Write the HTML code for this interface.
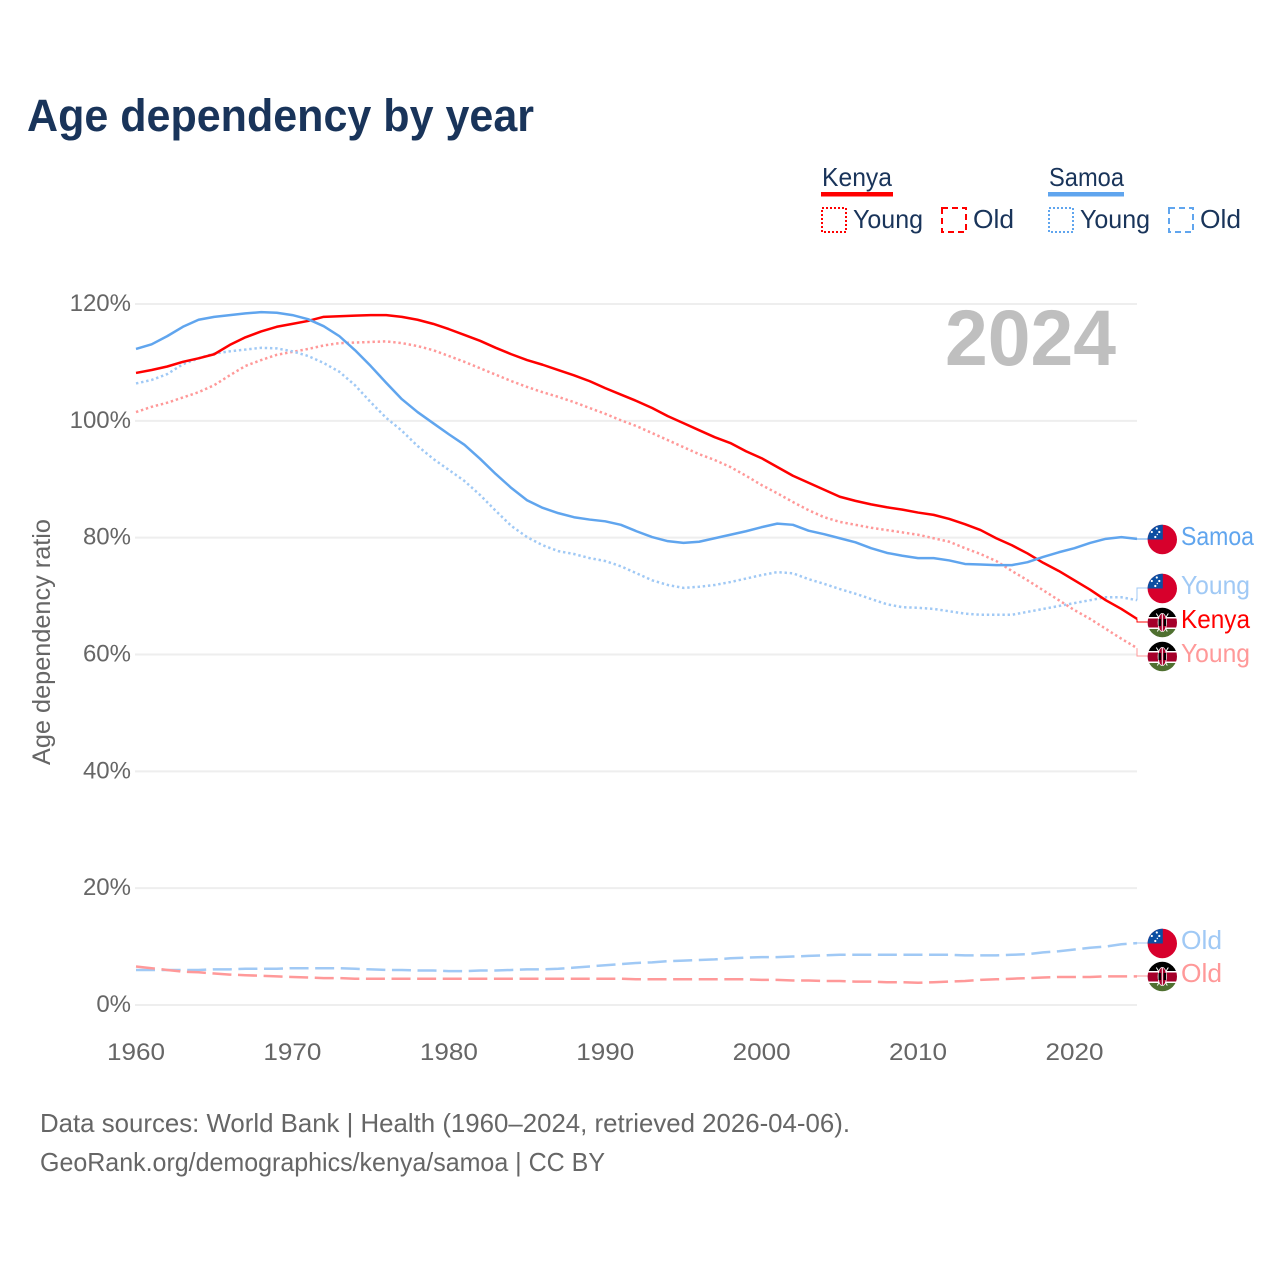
<!DOCTYPE html>
<html lang="en">
<head>
<meta charset="utf-8">
<title>Age dependency by year</title>
<style>
html,body{margin:0;padding:0;background:#fff;width:1280px;height:1280px;overflow:hidden}
svg{display:block;font-family:"Liberation Sans",sans-serif}
</style>
</head>
<body>
<svg id="chart" xmlns="http://www.w3.org/2000/svg" width="1280" height="1280" viewBox="0 0 1280 1280">
<defs>
<clipPath id="flag-clip"><circle cx="0" cy="0" r="14.7"/></clipPath>
<g id="flag-samoa" clip-path="url(#flag-clip)">
<rect x="-15" y="-15" width="30" height="30" fill="#d7002c"/>
<rect x="-15" y="-15" width="15.5" height="15" fill="#0b4ea2"/>
<circle cx="-5.5" cy="-11" r="1.1" fill="#fff"/>
<circle cx="-10.5" cy="-7.5" r="1.1" fill="#fff"/>
<circle cx="-3" cy="-7.5" r="1.1" fill="#fff"/>
<circle cx="-5" cy="-5" r="0.7" fill="#fff"/>
<circle cx="-7" cy="-2.5" r="1.1" fill="#fff"/>
</g>
<g id="flag-kenya" clip-path="url(#flag-clip)">
<rect x="-15" y="-15" width="30" height="30" fill="#fff"/>
<rect x="-15" y="-15" width="30" height="9.5" fill="#000"/>
<rect x="-15" y="-4" width="30" height="9" fill="#a5002a"/>
<rect x="-15" y="6.5" width="30" height="9" fill="#4f7030"/>
<line x1="-6" y1="-9" x2="5" y2="9" stroke="#fff" stroke-width="1"/>
<line x1="6" y1="-9" x2="-5" y2="9" stroke="#fff" stroke-width="1"/>
<ellipse cx="0" cy="0" rx="4.6" ry="9.5" fill="#fff"/>
<ellipse cx="0" cy="0" rx="3.8" ry="8.8" fill="#a5002a"/>
<rect x="-3.8" y="-3.5" width="2.4" height="7" fill="#000"/>
<rect x="1.4" y="-3.5" width="2.4" height="7" fill="#000"/>
<rect x="-0.5" y="-8.5" width="1" height="17" fill="#fff"/>
</g>
</defs>

<text x="27" y="131" font-size="45" font-weight="700" fill="#19345a" textLength="507" lengthAdjust="spacingAndGlyphs">Age dependency by year</text>

<g font-size="26" fill="#19345a">
<text x="822" y="186" textLength="70" lengthAdjust="spacingAndGlyphs">Kenya</text>
<rect x="821" y="192" width="72" height="4.5" fill="#ff0000"/>
<rect x="822" y="208" width="24" height="24" fill="none" stroke="#ff0000" stroke-width="2" stroke-dasharray="2 2"/>
<text x="853" y="228" textLength="70" lengthAdjust="spacingAndGlyphs">Young</text>
<rect x="942" y="208" width="24" height="24" fill="none" stroke="#ff0000" stroke-width="2" stroke-dasharray="6 4"/>
<text x="973" y="228" textLength="41" lengthAdjust="spacingAndGlyphs">Old</text>
<text x="1049" y="186" textLength="75" lengthAdjust="spacingAndGlyphs">Samoa</text>
<rect x="1048" y="192" width="76" height="4.5" fill="#60a5ee"/>
<rect x="1049" y="208" width="24" height="24" fill="none" stroke="#60a5ee" stroke-width="2" stroke-dasharray="2 2"/>
<text x="1080" y="228" textLength="70" lengthAdjust="spacingAndGlyphs">Young</text>
<rect x="1169" y="208" width="24" height="24" fill="none" stroke="#60a5ee" stroke-width="2" stroke-dasharray="6 4"/>
<text x="1200" y="228" textLength="41" lengthAdjust="spacingAndGlyphs">Old</text>
</g>

<g id="grid"></g>
<g id="yticks"></g>
<g id="xticks"></g>

<text transform="translate(50,642) rotate(-90)" text-anchor="middle" font-size="25" fill="#666666" textLength="246" lengthAdjust="spacingAndGlyphs">Age dependency ratio</text>

<text x="945" y="365" font-size="79" font-weight="700" fill="#bfbfbf" textLength="171" lengthAdjust="spacingAndGlyphs">2024</text>

<g id="series"></g>
<g id="endlabels"></g>

<text x="40" y="1132" font-size="26" fill="#666666" textLength="810" lengthAdjust="spacingAndGlyphs">Data sources: World Bank | Health (1960–2024, retrieved 2026-04-06).</text>
<text x="40" y="1171" font-size="26" fill="#666666" textLength="565" lengthAdjust="spacingAndGlyphs">GeoRank.org/demographics/kenya/samoa | CC BY</text>
</svg>

<script>
const firstYear = 1960;
const xTickLabels = [1960, 1970, 1980, 1990, 2000, 2010, 2020];
const yTickLabels = [0, 20, 40, 60, 80, 100, 120];

const kenyaTotal = [
108.2,108.7,109.3,110.1,110.7,111.4,113.0,114.3,115.3,116.1,
116.6,117.1,117.8,117.9,118.0,118.1,118.1,117.8,117.3,116.6,
115.7,114.7,113.7,112.5,111.4,110.4,109.6,108.7,107.8,106.8,
105.6,104.5,103.4,102.2,100.8,99.6,98.4,97.2,96.2,94.8,
93.6,92.1,90.6,89.4,88.2,87.0,86.3,85.7,85.2,84.8,
84.3,83.9,83.2,82.3,81.3,79.9,78.7,77.3,75.7,74.3,
72.7,71.1,69.3,67.8,66.1];
const kenyaYoung = [
101.5,102.4,103.1,104.0,104.9,106.1,107.8,109.4,110.4,111.3,
111.8,112.3,112.9,113.3,113.4,113.5,113.6,113.3,112.8,112.1,
111.1,110.1,109.0,107.9,106.8,105.8,104.9,104.1,103.2,102.2,
101.2,100.1,99.1,97.9,96.7,95.5,94.3,93.3,92.1,90.6,
89.0,87.6,86.1,84.7,83.5,82.7,82.2,81.7,81.3,80.9,
80.5,79.9,79.3,78.2,77.2,76.0,74.3,72.7,71.0,69.3,
67.6,66.1,64.4,62.7,61.1];
const kenyaOld = [
6.6,6.3,6.0,5.7,5.6,5.4,5.2,5.1,5.0,4.9,
4.8,4.7,4.6,4.6,4.5,4.5,4.5,4.5,4.5,4.5,
4.5,4.5,4.5,4.5,4.5,4.5,4.5,4.5,4.5,4.5,
4.5,4.5,4.4,4.4,4.4,4.4,4.4,4.4,4.4,4.4,
4.3,4.3,4.2,4.2,4.1,4.1,4.0,4.0,3.9,3.9,
3.8,3.9,4.0,4.1,4.3,4.4,4.5,4.6,4.7,4.8,
4.8,4.8,4.9,4.9,4.9];
const samoaTotal = [
112.3,113.1,114.5,116.1,117.3,117.8,118.1,118.4,118.6,118.5,
118.1,117.4,116.2,114.5,112.1,109.4,106.5,103.7,101.5,99.6,
97.7,95.9,93.5,90.9,88.5,86.4,85.1,84.2,83.5,83.1,
82.8,82.2,81.1,80.1,79.4,79.1,79.3,79.9,80.5,81.1,
81.8,82.4,82.2,81.2,80.6,79.9,79.2,78.2,77.4,76.9,
76.5,76.5,76.1,75.5,75.4,75.3,75.3,75.8,76.7,77.5,
78.2,79.1,79.8,80.1,79.8];
const samoaYoung = [
106.4,107.0,108.0,109.7,110.7,111.5,111.9,112.2,112.5,112.4,
111.9,111.1,109.9,108.4,106.1,103.2,100.5,98.3,95.7,93.5,
91.6,89.7,87.3,84.6,82.0,80.1,78.7,77.7,77.2,76.5,
76.0,75.1,73.9,72.7,71.9,71.4,71.6,71.9,72.4,73.0,
73.6,74.1,73.9,72.9,72.1,71.2,70.4,69.5,68.6,68.1,
68.0,67.8,67.4,67.0,66.8,66.8,66.8,67.3,67.8,68.3,
68.8,69.3,69.8,69.8,69.3];
const samoaOld = [
6.0,6.0,6.0,6.0,6.0,6.1,6.1,6.2,6.2,6.2,
6.3,6.3,6.3,6.3,6.2,6.1,6.0,6.0,5.9,5.9,
5.8,5.8,5.9,5.9,6.0,6.1,6.1,6.2,6.4,6.6,
6.8,7.0,7.2,7.3,7.5,7.6,7.7,7.8,8.0,8.1,
8.2,8.2,8.3,8.4,8.5,8.6,8.6,8.6,8.6,8.6,
8.6,8.6,8.6,8.5,8.5,8.5,8.6,8.7,9.0,9.2,
9.5,9.8,10.0,10.4,10.6];

const SVGNS = 'http://www.w3.org/2000/svg';
const xScale = function (year) { return 136 + (year - 1960) * (1137 - 136) / 64; };
const yScale = function (value) { return 1005 - value * 701 / 120; };
const RED = '#ff0000';
const BLUE = '#60a5ee';
const PINK = '#ff9999';
const LIGHTBLUE = '#a0c9f5';

function make(tag, parentId) {
  const el = document.createElementNS(SVGNS, tag);
  document.getElementById(parentId).appendChild(el);
  return el;
}

yTickLabels.forEach(function (tick) {
  const line = make('line', 'grid');
  
  
  line.setAttribute('x1', 135);
  line.setAttribute('x2', 1137);
  line.setAttribute('y1', yScale(tick));
  line.setAttribute('y2', yScale(tick));
  line.setAttribute('stroke', '#eeeeee');
  line.setAttribute('stroke-width', 2);

  const label = make('text', 'yticks');
  
  
  label.setAttribute('x', 131);
  label.setAttribute('y', yScale(tick) + 7);
  label.setAttribute('text-anchor', 'end');
  label.setAttribute('font-size', 24);
  label.setAttribute('fill', '#666666');
  label.textContent = tick + '%';
});

xTickLabels.forEach(function (tick) {
  const label = make('text', 'xticks');
  
  
  label.setAttribute('x', xScale(tick));
  label.setAttribute('y', 1060);
  label.setAttribute('text-anchor', 'middle');
  label.setAttribute('font-size', 24);
  label.setAttribute('fill', '#666666');
  label.setAttribute('textLength', 58);
  label.setAttribute('lengthAdjust', 'spacingAndGlyphs');
  label.textContent = tick;
});

function drawSeries(values, name, color, dash, width) {
  const d = values.map(function (v, i) {
    return (i ? 'L' : 'M') + xScale(firstYear + i).toFixed(2) + ' ' + yScale(v).toFixed(2);
  }).join('');
  const path = make('path', 'series');
  
  
  path.setAttribute('d', d);
  path.setAttribute('fill', 'none');
  path.setAttribute('stroke', color);
  path.setAttribute('stroke-width', width);
  path.setAttribute('stroke-linejoin', 'round');
  if (dash) path.setAttribute('stroke-dasharray', dash);
}

drawSeries(samoaOld, 'line-samoa-old', LIGHTBLUE, '19 6.6', 2.5);
drawSeries(kenyaOld, 'line-kenya-old', PINK, '19 6.6', 2.5);
drawSeries(kenyaYoung, 'line-kenya-young', PINK, '2.4 2.8', 2.5);
drawSeries(samoaYoung, 'line-samoa-young', LIGHTBLUE, '2.4 2.8', 2.5);
drawSeries(kenyaTotal, 'line-kenya-total', RED, '', 2.5);
drawSeries(samoaTotal, 'line-samoa-total', BLUE, '', 2.5);

function endLabel(values, key, text, color, flag, labelY, textWidth, dash) {
  const endY = yScale(values[values.length - 1]);
  const link = make('path', 'endlabels');
  
  
  link.setAttribute('d', 'M1137 ' + endY.toFixed(1) + 'V' + labelY + 'H1148');
  link.setAttribute('fill', 'none');
  link.setAttribute('stroke', color);
  link.setAttribute('stroke-width', 1);
  if (dash) link.setAttribute('stroke-dasharray', dash);

  const icon = make('use', 'endlabels');
  
  
  icon.setAttribute('href', '#' + flag);
  icon.setAttribute('transform', 'translate(1162.3,' + (labelY + 0.5) + ')');

  const label = make('text', 'endlabels');
  
  
  label.setAttribute('x', 1181);
  label.setAttribute('y', labelY + 6);
  label.setAttribute('font-size', 26);
  label.setAttribute('fill', color);
  label.setAttribute('textLength', textWidth);
  label.setAttribute('lengthAdjust', 'spacingAndGlyphs');
  label.textContent = text;
}

endLabel(samoaTotal, 'samoa-total', 'Samoa', BLUE, 'flag-samoa', 539, 73, '');
endLabel(samoaYoung, 'samoa-young', 'Young', LIGHTBLUE, 'flag-samoa', 588, 69, '');
endLabel(kenyaTotal, 'kenya-total', 'Kenya', RED, 'flag-kenya', 622, 69, '');
endLabel(kenyaYoung, 'kenya-young', 'Young', PINK, 'flag-kenya', 656, 69, '');
endLabel(samoaOld, 'samoa-old', 'Old', LIGHTBLUE, 'flag-samoa', 943, 41, '19 6.6');
endLabel(kenyaOld, 'kenya-old', 'Old', PINK, 'flag-kenya', 976, 41, '19 6.6');
</script>
</body>
</html>
